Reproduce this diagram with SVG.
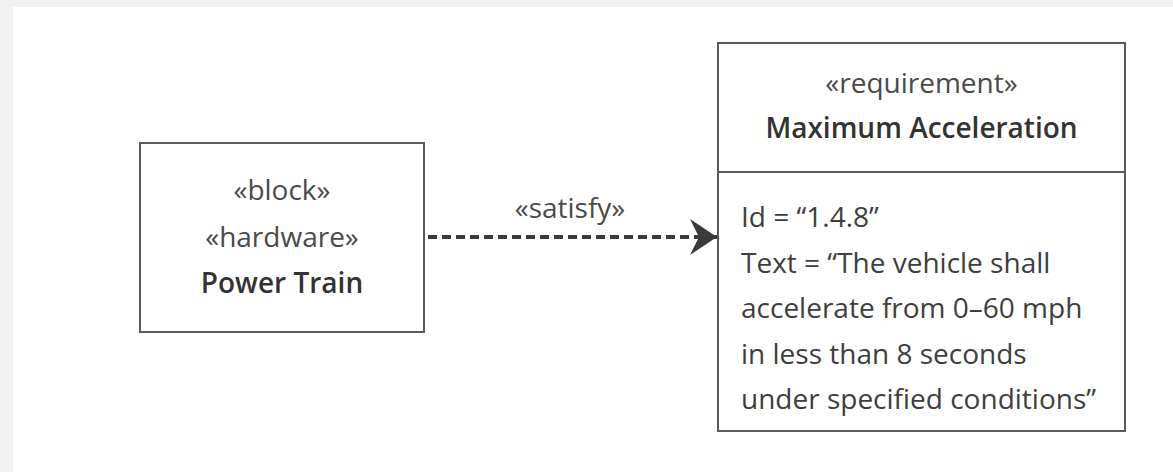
<svg xmlns="http://www.w3.org/2000/svg" width="1173" height="472" viewBox="0 0 1173 472">
<style>
.box{fill:#fff;stroke:#5a5a5a;stroke-width:2}
.t{font-family:"Open Sans","Noto Sans","Liberation Sans",sans-serif;font-size:28px;fill:#3e3e3e}
.st{fill:#4a4a4a}
.nm{font-weight:600;fill:#333}
.c{text-anchor:middle}
.conn{stroke:#3a3a3a;stroke-width:4;stroke-dasharray:9 5;fill:none}
</style>
<defs>
<marker id="chev" markerUnits="userSpaceOnUse" markerWidth="30" markerHeight="40" refX="28" refY="18" orient="auto">
<path d="M1,0 L28,18 L1,36 L10,18 Z" fill="#3a3a3a"/>
</marker>
</defs>
<rect x="0" y="0" width="1173" height="472" fill="#f1f1f1"/>
<rect x="13" y="7" width="1160" height="465" fill="#fff"/>
<g id="connectors">
<line class="conn" x1="428" y1="237" x2="717" y2="237" marker-end="url(#chev)"/>
<text class="t st c" x="570" y="218">«satisfy»</text>
</g>
<g id="power-train">
<rect class="box" x="140" y="143" width="284" height="189"/>
<text class="t st c" x="282" y="200">«block»</text>
<text class="t st c" x="282" y="247">«hardware»</text>
<text class="t nm c" x="282" y="293">Power Train</text>
</g>
<g id="max-acceleration">
<rect class="box" x="718" y="43" width="407" height="388"/>
<line class="box" x1="718" y1="172" x2="1125" y2="172"/>
<text class="t st c" x="921.5" y="93">«requirement»</text>
<text class="t nm c" x="921.5" y="138">Maximum Acceleration</text>
<text class="t" x="741">
<tspan x="741" y="227">Id = “1.4.8”</tspan>
<tspan x="741" y="273">Text = “The vehicle shall</tspan>
<tspan x="741" y="318">accelerate from 0–60 mph</tspan>
<tspan x="741" y="364">in less than 8 seconds</tspan>
<tspan x="741" y="409">under specified conditions”</tspan>
</text>
</g>
</svg>
